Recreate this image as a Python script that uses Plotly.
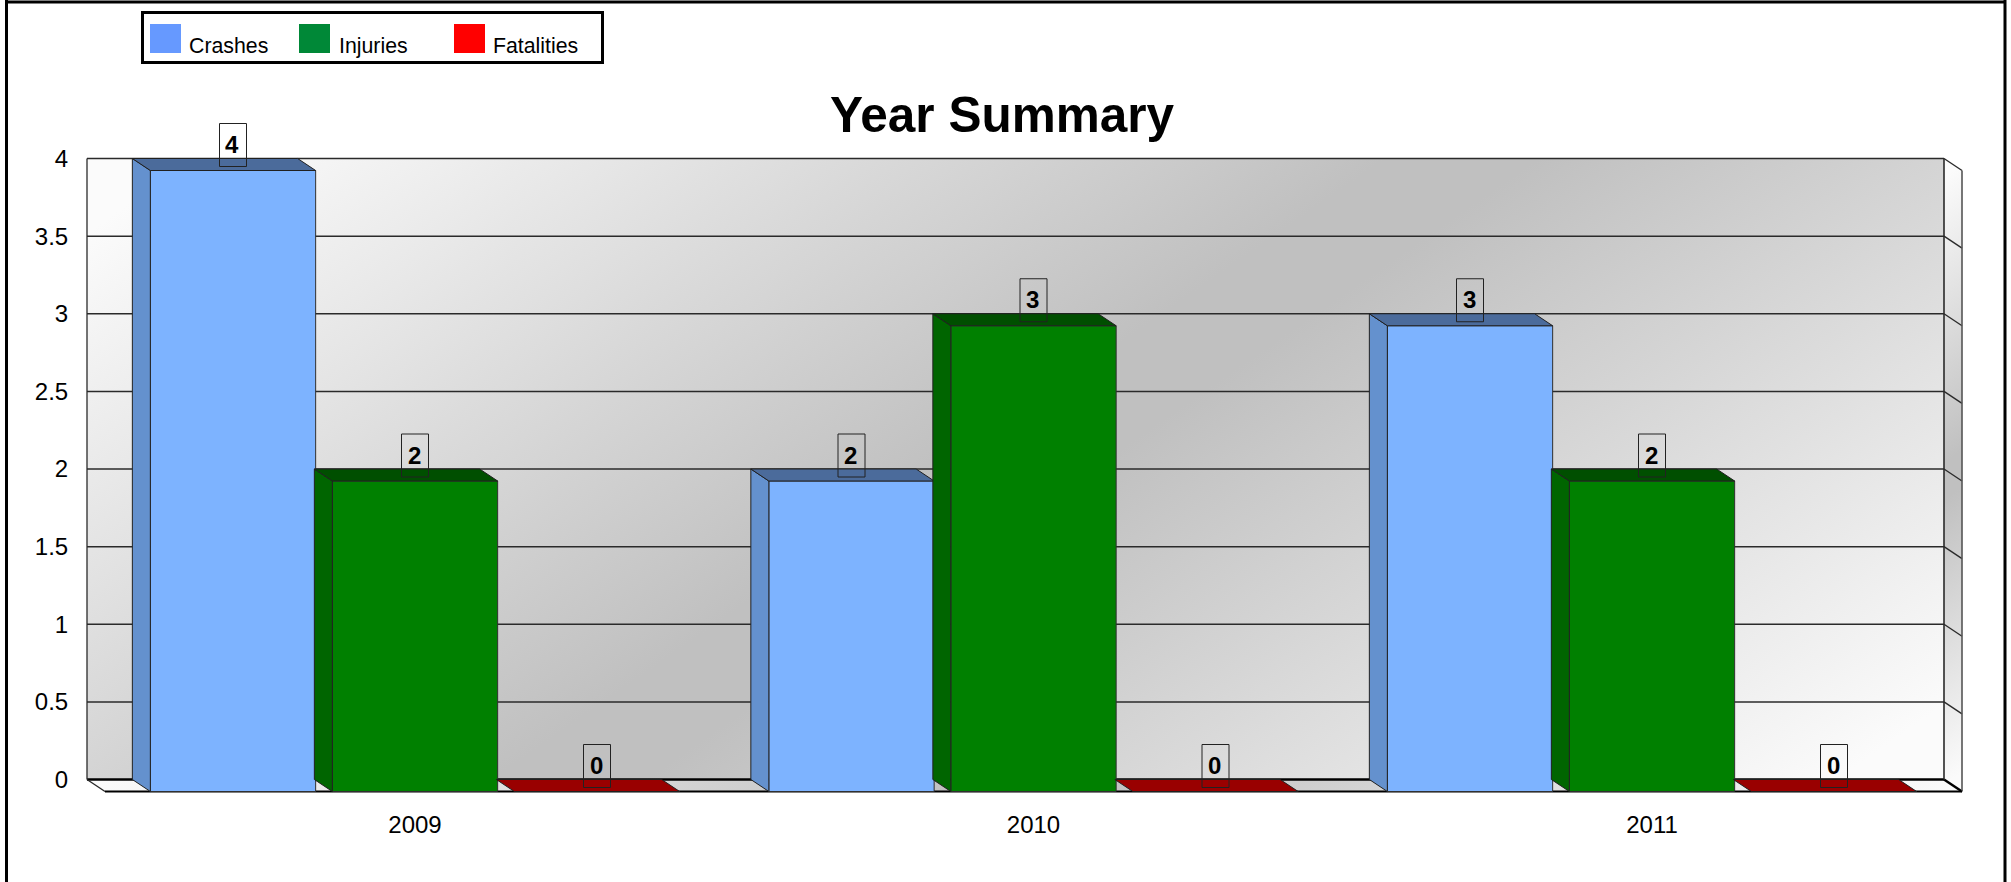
import base64
import plotly.graph_objects as go

# ---- data ----
years = ["2009", "2010", "2011"]
crashes = [4, 2, 3]
injuries = [2, 3, 2]
fatalities = [0, 0, 0]
y_ticks = [0, 0.5, 1, 1.5, 2, 2.5, 3, 3.5, 4]
y_tick_labels = ["0", "0.5", "1", "1.5", "2", "2.5", "3", "3.5", "4"]
legend_names = ["Crashes", "Injuries", "Fatalities"]

# ---- page geometry (pixels) ----
W, H = 2011, 882
FONT = "Liberation Sans"
WALL_L, WALL_R, FRONT_R = 87, 1944, 1962
Y_TOP, Y_BACK0, Y_FRONT0 = 158.5, 779.5, 791.5
PX_X = 618.5            # pixels per category
PX_Y = (Y_BACK0 - Y_TOP) / 4
X0_PX = 415             # pixel of category 0
DX = 18 / PX_X          # 3D depth in data units
DY = 12 / PX_Y
STEP = 182 / PX_X
BAR_W = 165.3 / PX_X
PAD = 6
PAD_TOP = 50            # room above the wall so the "4" label box is not clipped


def ux(px):
    return (px - X0_PX) / PX_X


def uy(py):
    return (Y_BACK0 - py) / PX_Y


groups = list(range(len(years)))
series = [
    dict(name=legend_names[0], values=crashes, off=-STEP, front="#7DB3FF", side="#6491CE", top="#4B6B9B"),
    dict(name=legend_names[1], values=injuries, off=0, front="#008000", side="#006500", top="#004F00"),
    dict(name=legend_names[2], values=fatalities, off=STEP, front="#CC0000", side="#990000", top="#990000"),
]

# ---- gradient walls, supplied as a background picture ----
def grad(i, cx, cy, half):
    ax, ay = 0.57, 0.82
    return (
        f'<linearGradient id="g{i}" gradientUnits="userSpaceOnUse" '
        f'x1="{cx - ax * half}" y1="{cy - ay * half}" x2="{cx + ax * half}" y2="{cy + ay * half}">'
        '<stop offset="0" stop-color="#fbfbfb"/><stop offset="0.47" stop-color="#c0c0c0"/>'
        '<stop offset="0.53" stop-color="#c0c0c0"/><stop offset="1" stop-color="#fbfbfb"/></linearGradient>'
    )


svg = (
    f'<svg xmlns="http://www.w3.org/2000/svg" width="{W}" height="{H}" viewBox="0 0 {W} {H}"><defs>'
    + grad(0, (WALL_L + WALL_R) / 2, (Y_TOP + Y_BACK0) / 2, 725)
    + grad(1, (WALL_R + FRONT_R) / 2, (Y_TOP + Y_FRONT0) / 2, 250)
    + grad(2, (WALL_L + FRONT_R) / 2, (Y_BACK0 + Y_FRONT0) / 2, 539)
    + "</defs>"
    + f'<rect x="{WALL_L}" y="{Y_TOP}" width="{WALL_R - WALL_L}" height="{Y_BACK0 - Y_TOP}" fill="url(#g0)"/>'
    + f'<polygon points="{WALL_R},{Y_TOP} {FRONT_R},{Y_TOP + 12} {FRONT_R},{Y_FRONT0} {WALL_R},{Y_BACK0}" fill="url(#g1)"/>'
    + f'<polygon points="{WALL_L},{Y_BACK0} {WALL_R},{Y_BACK0} {FRONT_R},{Y_FRONT0} {WALL_L + 18},{Y_FRONT0}" fill="url(#g2)"/>'
    + "</svg>"
)
svg_uri = "data:image/svg+xml;base64," + base64.b64encode(svg.encode()).decode()

fig = go.Figure()

# front faces
for s in series:
    fig.add_trace(go.Bar(
        x=groups, y=s["values"], base=-DY, name=s["name"], showlegend=False,
        marker=dict(color=s["front"], line=dict(color="#303030", width=1)),
        hoverinfo="skip",
    ))

# side and top faces
for s in series:
    side_x, side_y, top_x, top_y = [], [], [], []
    for g, v in zip(groups, s["values"]):
        xl = g + s["off"] - BAR_W / 2
        xr = g + s["off"] + BAR_W / 2
        top_x += [xl - DX, xr - DX, xr, xl, xl - DX, None]
        top_y += [v, v, v - DY, v - DY, v, None]
        if v > 0:
            side_x += [xl - DX, xl, xl, xl - DX, xl - DX, None]
            side_y += [v, v - DY, -DY, 0, v, None]
    if side_x:
        fig.add_trace(go.Scatter(
            x=side_x, y=side_y, mode="lines", fill="toself", fillcolor=s["side"],
            line=dict(color="#202020", width=1), showlegend=False, hoverinfo="skip", cliponaxis=False,
        ))
    fig.add_trace(go.Scatter(
        x=top_x, y=top_y, mode="lines", fill="toself", fillcolor=s["top"],
        line=dict(color="#202020", width=1), showlegend=False, hoverinfo="skip", cliponaxis=False,
    ))

# ---- shapes ----
shapes = []
LX, RX, FX = ux(WALL_L), ux(WALL_R), ux(FRONT_R)


def seg(x0, y0, x1, y1, width=1.3, color="#2a2a2a"):
    shapes.append(dict(type="line", xref="x", yref="y", layer="below", x0=x0, y0=y0, x1=x1, y1=y1,
                       line=dict(color=color, width=width)))


for t in y_ticks:
    seg(LX, t, RX, t, 1.5 if t else 2.5, "#2a2a2a" if t else "#000000")
    seg(RX, t, FX, t - DY, 1.3 if t else 2.5, "#2a2a2a" if t else "#000000")
seg(LX, 0, LX, 4)
seg(RX, 0, RX, 4, 1.6)
seg(FX, -DY, FX, 4 - DY, 1.6, "#555555")
seg(LX, 0, LX + DX, -DY)
seg(LX + DX, -DY, FX, -DY, 2, "#000000")


def pxx(v):
    return v / W


def pxy(v):
    return 1 - v / H


def prect(x0, y0, x1, y1, fill=None, lw=0, lc="#000000"):
    shapes.append(dict(type="rect", xref="paper", yref="paper", layer="above",
                       x0=pxx(x0), x1=pxx(x1), y0=pxy(y0), y1=pxy(y1),
                       fillcolor=fill if fill else "rgba(0,0,0,0)",
                       line=dict(color=lc, width=lw)))


def pline(x0, y0, x1, y1, lw=3):
    shapes.append(dict(type="line", xref="paper", yref="paper", layer="above",
                       x0=pxx(x0), x1=pxx(x1), y0=pxy(y0), y1=pxy(y1),
                       line=dict(color="#000000", width=lw)))


# outer frame (no bottom edge in the picture)
pline(6.5, 0, 6.5, H)
pline(6.5, 2, 2005, 2)
pline(2005, 0, 2005, H)

# legend box
prect(142.5, 12.5, 602.5, 62.5, None, 3)
legend_swatches = ["#6699FF", "#008837", "#FF0000"]
legend_sw_x = [150, 299, 454]
legend_tx_x = [186.5, 336.5, 490.5]
for sx, c in zip(legend_sw_x, legend_swatches):
    prect(sx, 24, sx + 31, 53, c)

# ---- value labels: a pixel-sized box anchored on each bar, with the number as text ----
annotations = []
for s in series:
    for g, v in zip(groups, s["values"]):
        shapes.append(dict(
            type="rect", layer="above", xref="x", yref="y",
            xsizemode="pixel", xanchor=g + s["off"], x0=-13.5, x1=13.5,
            ysizemode="pixel", yanchor=v - DY, y0=4, y1=47,
            line=dict(color="#222222", width=1), fillcolor="rgba(0,0,0,0)",
        ))
        annotations.append(dict(
            x=g + s["off"], y=v - DY, xref="x", yref="y", xanchor="center", yanchor="middle",
            yshift=26, xshift=-1,
            text=f"<b>{v}</b>", showarrow=False,
            font=dict(family=FONT, size=24, color="#000000"),
        ))
for name, tx in zip(legend_names, legend_tx_x):
    annotations.append(dict(
        x=pxx(tx), y=pxy(46), xref="paper", yref="paper", xanchor="left", yanchor="middle",
        text=name, showarrow=False, font=dict(family=FONT, size=21.3, color="#000000"),
    ))

fig.update_layout(
    width=W, height=H, autosize=False,
    margin=dict(l=0, r=0, t=0, b=0, pad=0, autoexpand=False),
    paper_bgcolor="#ffffff", plot_bgcolor="rgba(0,0,0,0)",
    barmode="group", bargap=1 - 3 * STEP, bargroupgap=1 - BAR_W / STEP,
    title=dict(text="<b>Year Summary</b>", x=1002 / W, xanchor="center", xref="container",
               y=1 - 115 / H, yref="container", yanchor="middle",
               font=dict(family=FONT, size=49.5, color="#000000")),
    showlegend=False,
    xaxis=dict(
        domain=[(WALL_L - PAD) / W, (FRONT_R + PAD) / W],
        range=[ux(WALL_L - PAD), ux(FRONT_R + PAD)],
        tickmode="array", tickvals=groups, ticktext=years,
        showgrid=False, zeroline=False, showline=False,
        ticks="outside", ticklen=6, tickcolor="rgba(0,0,0,0)",
        tickfont=dict(family=FONT, size=24, color="#000000"),
    ),
    yaxis=dict(
        domain=[1 - (Y_FRONT0 + PAD) / H, 1 - (Y_TOP - PAD_TOP) / H],
        range=[uy(Y_FRONT0 + PAD), uy(Y_TOP - PAD_TOP)],
        tickmode="array", tickvals=y_ticks, ticktext=y_tick_labels,
        showgrid=False, zeroline=False, showline=False,
        ticks="outside", ticklen=7, tickcolor="rgba(0,0,0,0)",
        tickfont=dict(family=FONT, size=24, color="#000000"),
    ),
    images=[dict(source=svg_uri, xref="paper", yref="paper", x=0, y=1, sizex=1, sizey=1,
                 xanchor="left", yanchor="top", sizing="stretch", layer="below")],
    shapes=shapes,
    annotations=annotations,
)

fig.write_html("out.html", config={"displayModeBar": False},
               post_script="document.body.style.margin='0';document.body.style.overflow='hidden';")
